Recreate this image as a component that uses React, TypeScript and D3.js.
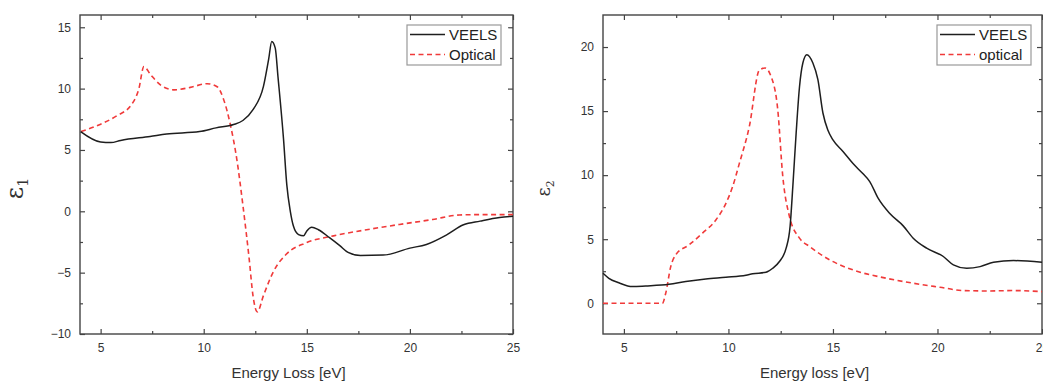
import React, { useRef, useEffect } from 'react'
import * as d3 from 'd3'

// epsilon 1 (left panel)
const eps1VeelsE = [4.03, 5, 5.5, 5.97, 7.4, 8.2, 9.8, 10.6, 11.45, 11.9, 12.4, 12.9, 13.15, 13.3, 13.47, 13.6, 13.87, 14.03, 14.2, 14.35, 14.6, 14.84, 15.0, 15.24, 15.56, 16.1, 16.6, 17.0, 17.6, 18.7, 20.0, 20.8, 21.8, 22.6, 23.4, 24.35, 25]
const eps1VeelsV = [6.5, 5.65, 5.6, 5.78, 6.1, 6.3, 6.5, 6.8, 7.07, 7.4, 8.3, 10.2, 12.4, 13.85, 13.3, 11.0, 5.9, 2.15, 0, -1.2, -1.9, -2.0, -1.6, -1.3, -1.5, -2.15, -2.8, -3.35, -3.6, -3.57, -3.0, -2.7, -1.9, -1.1, -0.8, -0.5, -0.4]

const eps1OptE = [4.05, 5, 5.8, 6.5, 6.85, 7.1, 7.42, 7.9, 8.55, 9.35, 10.16, 10.65, 10.97, 11.3, 11.6, 11.9, 12.2, 12.4, 12.6, 12.9, 13.4, 14.0, 15.0, 16.3, 17.9, 19.5, 21.1, 22.4, 23.55, 25]
const eps1OptV = [6.5, 7.1, 7.8, 8.7, 9.95, 11.8, 11.15, 10.3, 9.9, 10.1, 10.4, 10.15, 9.1, 7.0, 4.3, 0.5, -3.8, -7.0, -8.2, -6.85, -4.85, -3.5, -2.55, -2.0, -1.5, -1.07, -0.67, -0.3, -0.27, -0.27]

// epsilon 2 (right panel)
const eps2VeelsE = [4.0, 4.28, 4.76, 5.4, 6.04, 7.16, 7.96, 8.92, 9.88, 10.84, 11.16, 11.8, 12.12, 12.44, 12.76, 12.95, 13.08, 13.24, 13.4, 13.56, 13.75, 14.04, 14.28, 14.52, 14.76, 15.0, 15.48, 15.96, 16.44, 16.76, 17.16, 17.72, 18.36, 18.84, 19.48, 20.28, 20.76, 21.4, 22.04, 22.68, 23.64, 25]
const eps2VeelsV = [2.34, 1.95, 1.6, 1.3, 1.35, 1.48, 1.7, 1.9, 2.03, 2.19, 2.3, 2.42, 2.73, 3.26, 4.3, 6.0, 9.1, 13.3, 16.9, 18.75, 19.4, 18.75, 17.45, 14.85, 13.5, 12.75, 11.85, 10.9, 10.1, 9.5, 8.2, 7.0, 6.04, 5.08, 4.3, 3.65, 3.0, 2.73, 2.86, 3.2, 3.33, 3.2]

const eps2OptE = [4.0, 6.84, 7.0, 7.24, 7.48, 8.12, 8.76, 9.4, 9.88, 10.2, 10.52, 11.0, 11.48, 11.75, 12.04, 12.36, 12.6, 12.92, 13.4, 13.88, 14.84, 15.96, 17.56, 19.16, 20.12, 21.24, 22.36, 23.64, 25]
const eps2OptV = [0, 0, 0.78, 2.86, 3.78, 4.56, 5.47, 6.5, 7.8, 9.1, 10.9, 13.8, 18.2, 18.36, 17.7, 15.1, 9.9, 6.77, 5.08, 4.43, 3.39, 2.6, 1.95, 1.48, 1.25, 0.99, 0.96, 0.99, 0.91]

const xTicks = [5, 10, 15, 20, 25]
const xMinor = [7.5, 12.5, 17.5, 22.5]
const y1Ticks = [-10, -5, 0, 5, 10, 15]
const y1Minor = [-7.5, -2.5, 2.5, 7.5, 12.5]
const y2Ticks = [0, 5, 10, 15, 20]
const y2Minor = [2.5, 7.5, 12.5, 17.5]

type Panel = {
  left: number
  right: number
  yDomain: [number, number]
  yTicks: number[]
  yMinor: number[]
  veels: [number[], number[]]
  optical: [number[], number[]]
  xTitle: string
  yTitleSub: string
  yTitleX: number
  yTitleSize: number
  legend: { x: number; labels: [string, string] }
}

const panels: Panel[] = [
  {
    left: 80, right: 513, yDomain: [-10, 16], yTicks: y1Ticks, yMinor: y1Minor,
    veels: [eps1VeelsE, eps1VeelsV], optical: [eps1OptE, eps1OptV],
    xTitle: 'Energy Loss [eV]', yTitleSub: '1', yTitleX: 23, yTitleSize: 24,
    legend: { x: 407, labels: ['VEELS', 'Optical'] },
  },
  {
    left: 603, right: 1042, yDomain: [-2.4, 22.5], yTicks: y2Ticks, yMinor: y2Minor,
    veels: [eps2VeelsE, eps2VeelsV], optical: [eps2OptE, eps2OptV],
    xTitle: 'Energy loss [eV]', yTitleSub: '2', yTitleX: 550, yTitleSize: 18,
    legend: { x: 937, labels: ['VEELS', 'optical'] },
  },
]

export default function App() {
  const svgRef = useRef<SVGSVGElement>(null)

  useEffect(() => {
    const width = 1043
    const height = 383
    const top = 15
    const bottom = 334
    const axisColor = '#444'

    const svg = d3.select(svgRef.current)
    svg.selectAll('*').remove()
    svg.attr('viewBox', `0 0 ${width} ${height}`)

    panels.forEach(p => {
      const x = d3.scaleLinear().domain([4, 25]).range([p.left, p.right])
      const y = d3.scaleLinear().domain(p.yDomain).range([bottom, top])
      const g = svg.append('g')

      const styleAxis = (sel: d3.Selection<SVGGElement, unknown, null, undefined>) => {
        sel.select('.domain').remove()
        sel.selectAll('line').attr('stroke', axisColor).attr('stroke-width', 1.2)
        sel.selectAll('text')
          .attr('fill', '#333')
          .style('font-family', 'Liberation Sans, Arial, sans-serif')
          .style('font-size', '12px')
      }

      // major + minor ticks, inward, on all four sides
      g.append('g').attr('transform', `translate(0,${bottom})`)
        .call(d3.axisBottom(x).tickValues(xTicks).tickSize(-5).tickPadding(9).tickFormat(d3.format('d')))
        .call(styleAxis)
      g.append('g').attr('transform', `translate(0,${bottom})`)
        .call(d3.axisBottom(x).tickValues(xMinor).tickSize(-3).tickFormat(() => ''))
        .call(styleAxis)
      g.append('g').attr('transform', `translate(0,${top})`)
        .call(d3.axisTop(x).tickValues(xTicks).tickSize(-5).tickFormat(() => ''))
        .call(styleAxis)
      g.append('g').attr('transform', `translate(0,${top})`)
        .call(d3.axisTop(x).tickValues(xMinor).tickSize(-3).tickFormat(() => ''))
        .call(styleAxis)
      g.append('g').attr('transform', `translate(${p.left},0)`)
        .call(d3.axisLeft(y).tickValues(p.yTicks).tickSize(-5).tickPadding(9).tickFormat(d3.format('d')))
        .call(styleAxis)
      g.append('g').attr('transform', `translate(${p.left},0)`)
        .call(d3.axisLeft(y).tickValues(p.yMinor).tickSize(-3).tickFormat(() => ''))
        .call(styleAxis)
      g.append('g').attr('transform', `translate(${p.right},0)`)
        .call(d3.axisRight(y).tickValues(p.yTicks).tickSize(-5).tickFormat(() => ''))
        .call(styleAxis)
      g.append('g').attr('transform', `translate(${p.right},0)`)
        .call(d3.axisRight(y).tickValues(p.yMinor).tickSize(-3).tickFormat(() => ''))
        .call(styleAxis)

      g.append('rect')
        .attr('x', p.left).attr('y', top)
        .attr('width', p.right - p.left).attr('height', bottom - top)
        .attr('fill', 'none').attr('stroke', axisColor).attr('stroke-width', 1.4)

      const line = d3.line<[number, number]>()
        .x(d => x(d[0]))
        .y(d => y(d[1]))
        .curve(d3.curveMonotoneX)

      const optPts = d3.zip(p.optical[0], p.optical[1]) as [number, number][]
      const veelsPts = d3.zip(p.veels[0], p.veels[1]) as [number, number][]

      g.append('path').datum(optPts).attr('d', line)
        .attr('fill', 'none').attr('stroke', '#f03a3a').attr('stroke-width', 1.6)
        .attr('stroke-dasharray', '5,3.5')
      g.append('path').datum(veelsPts).attr('d', line)
        .attr('fill', 'none').attr('stroke', '#1e1e1e').attr('stroke-width', 1.5)

      // axis titles
      g.append('text')
        .attr('x', (p.left + p.right) / 2 - 8).attr('y', 378)
        .attr('text-anchor', 'middle').attr('fill', '#333')
        .style('font-family', 'Liberation Sans, Arial, sans-serif').style('font-size', '15px')
        .text(p.xTitle)

      const yt = g.append('text')
        .attr('transform', `translate(${p.yTitleX},${(top + bottom) / 2 + 14}) rotate(-90)`)
        .attr('text-anchor', 'middle').attr('fill', '#333')
        .style('font-family', 'DejaVu Serif, serif').style('font-size', `${p.yTitleSize}px`)
      yt.append('tspan').text('ε')
      yt.append('tspan').attr('dy', p.yTitleSize * 0.2).style('font-size', `${p.yTitleSize * 0.6}px`).text(p.yTitleSub)

      // legend
      const lg = g.append('g').attr('transform', `translate(${p.legend.x},25)`)
      lg.append('rect').attr('width', 94).attr('height', 40)
        .attr('fill', '#fff').attr('stroke', '#999').attr('stroke-width', 1.2)
      const rows = [
        { label: p.legend.labels[0], color: '#1e1e1e', dash: null, y: 9.5 },
        { label: p.legend.labels[1], color: '#f03a3a', dash: '5,3.5', y: 29.5 },
      ]
      rows.forEach(r => {
        lg.append('line').attr('x1', 3).attr('x2', 38).attr('y1', r.y).attr('y2', r.y)
          .attr('stroke', r.color).attr('stroke-width', 1.6)
          .attr('stroke-dasharray', r.dash)
        lg.append('text').attr('x', 42).attr('y', r.y + 5.5)
          .attr('fill', '#222')
          .style('font-family', 'Liberation Sans, Arial, sans-serif').style('font-size', '15px')
          .text(r.label)
      })
    })
  }, [])

  return (
    <svg
      ref={svgRef}
      width={1043}
      height={383}
      style={{ position: 'absolute', left: 0, top: 0, background: '#fff' }}
    />
  )
}
